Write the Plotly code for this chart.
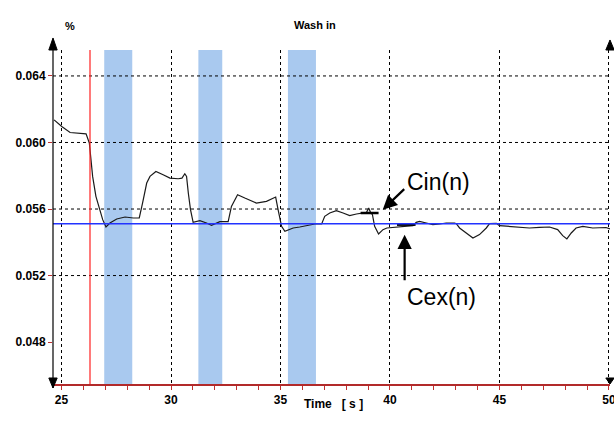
import plotly.graph_objects as go

# ---------------- data ----------------
time_s = [24.66, 24.75, 25.01, 25.39, 25.84, 26.12, 26.27, 26.33, 26.42, 26.57,
          26.76, 26.88, 27.03, 27.21, 27.52, 27.90, 28.28, 28.55, 28.70, 28.89,
          29.04, 29.31, 29.64, 29.95, 30.33, 30.50, 30.63, 30.71, 30.79, 30.89,
          31.01, 31.32, 31.62, 31.85, 32.23, 32.61, 32.76, 33.04, 33.37, 33.90,
          34.36, 34.69, 34.78, 34.89, 35.05, 35.20, 35.58, 35.88, 36.18, 36.57,
          36.88, 37.02, 37.25, 37.55, 37.86, 38.16, 38.47, 38.70, 38.93, 39.03,
          39.11, 39.20, 39.30, 39.48, 39.68, 39.86, 40.21, 40.59, 41.05, 41.20,
          41.35, 41.66, 41.96, 42.27, 42.57, 42.95, 43.03, 43.18, 43.49, 43.79,
          44.09, 44.40, 44.55, 44.86, 45.00, 45.46, 45.92, 46.37, 46.83, 47.29,
          47.66, 47.89, 48.08, 48.28, 48.50, 48.81, 49.26, 49.87, 50.05]
conc_pct = [0.06136, 0.06126, 0.06096, 0.06060, 0.06056, 0.06052, 0.05996, 0.05896, 0.05796, 0.05676,
            0.05596, 0.05536, 0.05492, 0.05516, 0.05540, 0.05552, 0.05546, 0.05546, 0.05636, 0.05756,
            0.05796, 0.05826, 0.05806, 0.05786, 0.05782, 0.05786, 0.05812, 0.05796, 0.05696, 0.05596,
            0.05520, 0.05530, 0.05516, 0.05502, 0.05524, 0.05524, 0.05616, 0.05686, 0.05666, 0.05636,
            0.05646, 0.05666, 0.05672, 0.05596, 0.05496, 0.05466, 0.05486, 0.05492, 0.05500, 0.05510,
            0.05510, 0.05556, 0.05576, 0.05590, 0.05576, 0.05560, 0.05570, 0.05576, 0.05580, 0.05606,
            0.05580, 0.05566, 0.05496, 0.05450, 0.05476, 0.05486, 0.05489, 0.05496, 0.05500, 0.05520,
            0.05526, 0.05516, 0.05506, 0.05510, 0.05516, 0.05516, 0.05512, 0.05486, 0.05456, 0.05426,
            0.05446, 0.05486, 0.05512, 0.05514, 0.05500, 0.05496, 0.05492, 0.05486, 0.05490, 0.05492,
            0.05476, 0.05440, 0.05420, 0.05456, 0.05486, 0.05496, 0.05486, 0.05489, 0.05480]

band_start = [26.95, 31.25, 35.34]
band_end = [28.23, 32.34, 36.62]
wash_start = 26.30
baseline = 0.05512

cin_x = [38.66, 39.48]
cin_level = 0.05576
cex_x = [40.32, 41.17]
cex_level = 0.05506

y_tickvals = [0.048, 0.052, 0.056, 0.060, 0.064]
y_ticktext = ["0.048", "0.052", "0.056", "0.060", "0.064"]
y_gridlevels = [0.052, 0.056, 0.060, 0.064]

x_range = [24.61, 50.05]
y_range = [0.04548, 0.06556]

FONT = "Liberation Sans, Arial, sans-serif"

fig = go.Figure()

# trace
fig.add_trace(go.Scatter(x=time_s, y=conc_pct, mode="lines",
                         line=dict(color="#1a1a1a", width=1.2),
                         showlegend=False, hoverinfo="skip"))
# Cin / Cex markers
fig.add_trace(go.Scatter(x=cin_x, y=[cin_level] * 2, mode="lines",
                         line=dict(color="black", width=2.5), showlegend=False))
fig.add_trace(go.Scatter(x=cex_x, y=[cex_level] * 2, mode="lines",
                         line=dict(color="black", width=2.5), showlegend=False))

shapes = []
for s, e in zip(band_start, band_end):
    shapes.append(dict(type="rect", xref="x", yref="paper", x0=s, x1=e, y0=0, y1=1,
                       fillcolor="#a9c9ef", line=dict(width=0), layer="below"))
for g in y_gridlevels:
    shapes.append(dict(type="line", xref="paper", yref="y", x0=0, x1=1, y0=g, y1=g,
                       line=dict(color="black", width=1, dash="3px,3px"), layer="below"))
# wash start red line
shapes.append(dict(type="line", xref="x", yref="paper", x0=wash_start, x1=wash_start,
                   y0=0, y1=1, line=dict(color="#ff2020", width=1.2)))
# baseline blue
shapes.append(dict(type="line", xref="paper", yref="y", x0=0, x1=1, y0=baseline, y1=baseline,
                   line=dict(color="#2233ff", width=1.5)))
# left axis line with arrows
shapes.append(dict(type="line", xref="paper", yref="paper", x0=0, x1=0, y0=-0.012, y1=1.03,
                   line=dict(color="black", width=1.2)))
aw = 0.0075
shapes.append(dict(type="path", xref="paper", yref="paper",
                   path=f"M 0,1.036 L {-aw},1.0 L {aw},1.0 Z",
                   fillcolor="black", line=dict(color="black", width=1)))
shapes.append(dict(type="path", xref="paper", yref="paper",
                   path=f"M 0,-0.012 L {-aw},0.018 L {aw},0.018 Z",
                   fillcolor="black", line=dict(color="black", width=1)))
# right arrows
shapes.append(dict(type="path", xref="paper", yref="paper",
                   path=f"M 1.0,1.03 L {1.0-aw},1.0 L {1.0+aw},1.0 Z",
                   fillcolor="black", line=dict(color="black", width=1)))
shapes.append(dict(type="path", xref="paper", yref="paper",
                   path=f"M 1.0,-0.0 L {1.0-aw},0.018 L {1.0+aw},0.018 Z",
                   fillcolor="black", line=dict(color="black", width=1)))

annotations = [
    dict(x=39.67, y=0.05596, ax=40.72, ay=0.05728, xref="x", yref="y", axref="x", ayref="y",
         text="", showarrow=True, arrowhead=2, arrowsize=1.3, arrowwidth=2.2, arrowcolor="black"),
    dict(x=40.67, y=0.05446, ax=40.67, ay=0.05163, xref="x", yref="y", axref="x", ayref="y",
         text="", showarrow=True, arrowhead=2, arrowsize=1.3, arrowwidth=2.2, arrowcolor="black"),
    dict(x=42.2, y=0.05764, xref="x", yref="y", text="Cin(n)", showarrow=False,
         font=dict(family=FONT, size=23, color="black")),
    dict(x=42.34, y=0.05073, xref="x", yref="y", text="Cex(n)", showarrow=False,
         font=dict(family=FONT, size=23, color="black")),
    dict(x=0.018, y=1.096, xref="paper", yref="paper", text="%", showarrow=False,
         font=dict(family=FONT, size=11, color="black", weight="bold")),
    dict(x=0.47, y=1.10, xref="paper", yref="paper", text="Wash in", showarrow=False,
         font=dict(family=FONT, size=11, color="black", weight="bold")),
    dict(x=0.504, y=-0.087, xref="paper", yref="paper", text="Time&nbsp;&nbsp;&nbsp;[ s ]",
         showarrow=False, font=dict(family=FONT, size=12, color="black", weight="bold")),
]

fig.update_layout(
    width=614, height=427,
    margin=dict(l=53, r=4, t=50, b=43, autoexpand=False),
    paper_bgcolor="white", plot_bgcolor="white",
    shapes=shapes, annotations=annotations,
    showlegend=False,
)
fig.update_xaxes(range=x_range, tick0=25, dtick=5, showgrid=True, gridcolor="black",
                 griddash="3px,3px", gridwidth=1, zeroline=False, automargin=False,
                 ticks="outside", ticklen=4, tickcolor="#c03030",
                 ticklabeloverflow="allow",
                 minor=dict(dtick=1, ticks="outside", ticklen=4, tickcolor="#c03030", showgrid=False),
                 showline=True, linecolor="#b22a2a", linewidth=2,
                 tickfont=dict(family=FONT, size=12, color="black", weight="bold"))
fig.update_yaxes(range=y_range, tickvals=y_tickvals, ticktext=y_ticktext, showgrid=False,
                 zeroline=False, ticks="outside", ticklen=4, tickcolor="#c03030",
                 showline=False, automargin=False,
                 tickfont=dict(family=FONT, size=12, color="black", weight="bold"))

fig.write_html("out.html")
